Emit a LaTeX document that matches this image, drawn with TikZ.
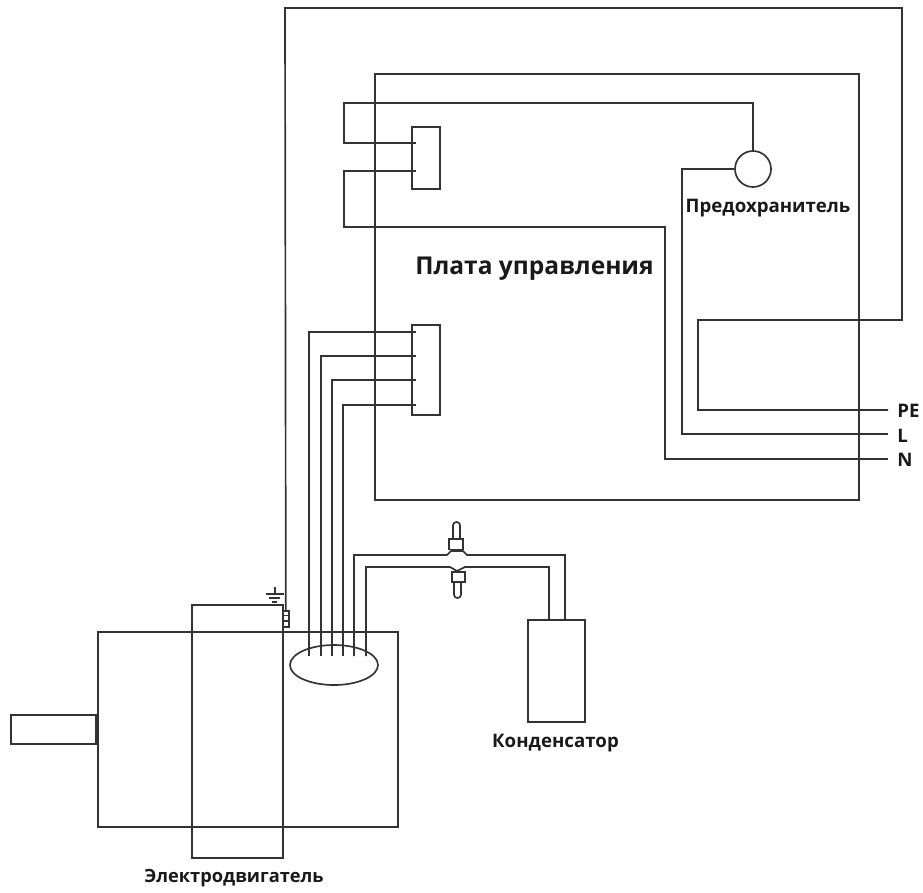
\documentclass[tikz,border=0pt]{standalone}
\usepackage{fontspec}
\usetikzlibrary{shapes.geometric}
\setmainfont{Open Sans}
\begin{document}
\begin{tikzpicture}[x=0.75pt,y=-0.75pt,
  wire/.style={draw=black!80,line width=1.25pt,line join=miter},
  lbl/.style={font=\fontsize{14}{16}\selectfont\bfseries,text=black!90,inner sep=0pt,anchor=base}]
\useasboundingbox (0,0) rectangle (923,892);
% motor
\node[wire,minimum width=300*0.75pt,minimum height=195*0.75pt,inner sep=0pt,anchor=north west] (motor) at (97,631) {};
\node[wire,minimum width=85*0.75pt,minimum height=29*0.75pt,inner sep=0pt,anchor=east] (shaft) at (97,729.5) {};
\node[wire,minimum width=91*0.75pt,minimum height=253*0.75pt,inner sep=0pt,anchor=north west] (stator) at (191,604) {};
\node[wire,ellipse,minimum width=88*0.75pt,minimum height=40*0.75pt,inner sep=0pt] (gland) at (334,665) {};
% board
\node[wire,minimum width=484*0.75pt,minimum height=426*0.75pt,inner sep=0pt,anchor=north west] (board) at (374,73) {};
\node[wire,minimum width=28*0.75pt,minimum height=62*0.75pt,inner sep=0pt,anchor=north west] (conA) at (411,126) {};
\node[wire,minimum width=28*0.75pt,minimum height=90*0.75pt,inner sep=0pt,anchor=north west] (conB) at (411,324) {};
\node[wire,circle,minimum size=36*0.75pt,inner sep=0pt] (fuse) at (753,169) {};
\node[wire,minimum width=57*0.75pt,minimum height=102*0.75pt,inner sep=0pt,anchor=north west] (cap) at (527,619) {};
\node[wire,minimum width=6*0.75pt,minimum height=16*0.75pt,inner sep=0pt,anchor=north west] (term) at (282,610) {};
\draw[wire] (282,615.5) -- (288,615.5) (282,621) -- (288,621);
% labels
\node[lbl,font=\fontsize{18.4}{22}\selectfont\bfseries] (tboard) at (534.5,274) {Плата управления};
\node[lbl] (tfuse) at (768,212) {Предохранитель};
\node[lbl] (tcap) at (555.5,747) {Конденсатор};
\node[lbl,font=\fontsize{13.7}{16}\selectfont\bfseries] (tmotor) at (234,882) {Электродвигатель};
\node[lbl,anchor=base west] (tpe) at (897,417) {PE};
\node[lbl,anchor=base west] (tl) at (897,442) {L};
\node[lbl,anchor=base west] (tn) at (897,466) {N};
% wires
\coordinate (pe) at (888,410);
\coordinate (l) at (888,434);
\coordinate (n) at (888,459);
\draw[wire] (term.north) -- (285,8) -- (902,8) -- (902,320) -- (698,320) -- (698,410) -- (pe);
\draw[wire] (fuse.west) -- (682,169) -- (682,434) -- (l);
\draw[wire] (n) -- (665,459) -- (665,227) -- (344,227) -- (344,171) -- (416,171);
\draw[wire] (fuse.north) -- (753,103) -- (344,103) -- (344,143) -- (416,143);
\draw[wire] (416,332) -- (309,332) -- (309,656);
\draw[wire] (416,356) -- (321,356) -- (321,656);
\draw[wire] (416,380) -- (332,380) -- (332,656);
\draw[wire] (416,405) -- (343,405) -- (343,656);
% capacitor wires with clamp
\draw[wire] (354,656) -- (354,555) -- (447,555) -- (451,551) -- (463,551) -- (467,555) -- (565,555) -- (565,619);
\draw[wire] (366,656) -- (366,567) -- (450,567) -- (457,571) -- (465,567) -- (549,567) -- (549,619);
\draw[wire] (449,539) rectangle (463,549.5);
\draw[wire] (452,572) rectangle (465,582);
\draw[wire,rounded corners=2.5pt] (453,539) -- (453,522) -- (460,522) -- (460,539);
\draw[wire,rounded corners=2.5pt] (454,582) -- (454,598) -- (461,598) -- (461,582);
% ground
\draw[wire] (284,594) -- (266,594) (275,587) -- (275,594) (269,598) -- (280,598) (272,602) -- (277,602);
\end{tikzpicture}
\end{document}
